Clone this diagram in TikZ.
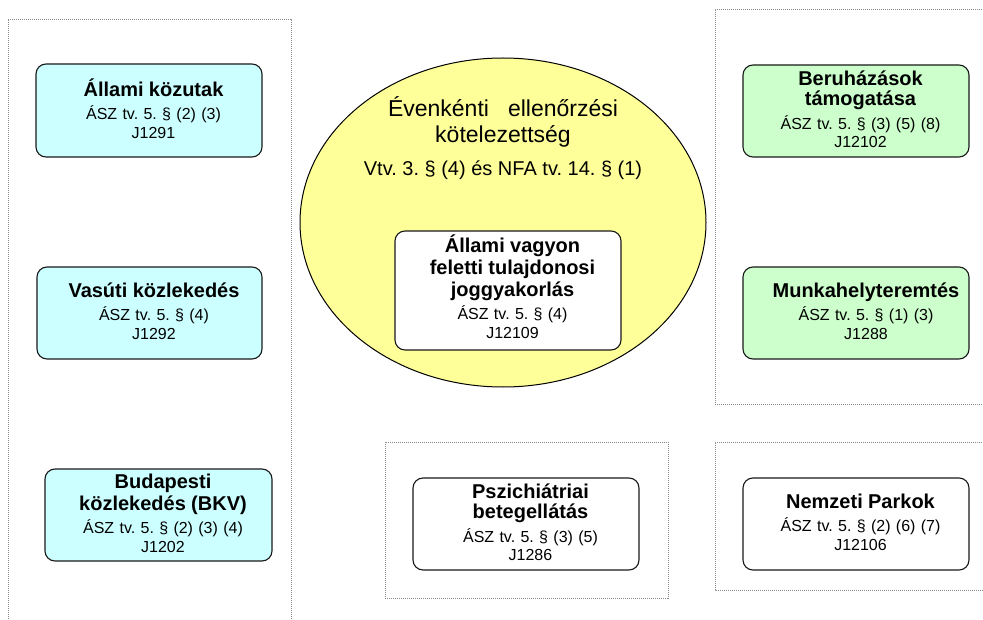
\documentclass[tikz,border=0pt]{standalone}
\usepackage{fontspec}
\setmainfont{Liberation Sans}
\usetikzlibrary{shapes.geometric}
\lineskiplimit=-100pt
\frenchspacing
\definecolor{boxcyan}{HTML}{CCFFFF}
\definecolor{boxgreen}{HTML}{CCFFCC}
\definecolor{ellyellow}{HTML}{FFFF99}
\definecolor{framegray}{HTML}{8A8A8A}
\newcommand{\cardtitle}[1]{{\fontsize{20}{18.5}\selectfont\bfseries #1}}
\tikzset{
  card/.style={draw=black!90, line width=1.1pt, rounded corners=10pt,
    minimum width=226pt, minimum height=92pt, inner sep=0pt},
  cardtext/.style={align=center, text width=215pt, inner sep=0pt,
    font=\fontsize{16}{18.5}\selectfont\frenchspacing, xshift=4.5pt, yshift=2pt},
  groupframe/.style={draw=framegray, line width=0.9pt, dash pattern=on 1pt off 1pt},
}
\begin{document}
\begin{tikzpicture}[x=1pt, y=-1pt]
\useasboundingbox (0,0) rectangle (983,620);

% group frames
\draw[groupframe] (8,625) -- (8,19) -- (291,19) -- (291,625);
\draw[groupframe] (990,9) -- (715,9) -- (715,404) -- (990,404);
\draw[groupframe] (385,442) rectangle (668,598);
\draw[groupframe] (990,442) -- (715,442) -- (715,590) -- (990,590);

% left column
\node[card, fill=boxcyan, minimum height=93pt,
  label={[cardtext]center:{\cardtitle{Állami közutak}\\[5pt]ÁSZ tv. 5. § (2) (3)\\J1291}}]
  (kozutak) at (149,110.5) {};
\node[card, fill=boxcyan, minimum width=225pt,
  label={[cardtext]center:{\cardtitle{Vasúti közlekedés}\\[5pt]ÁSZ tv. 5. § (4)\\J1292}}]
  (vasuti) at (149.5,313) {};
\node[card, fill=boxcyan, minimum width=227pt,
  label={[cardtext]center:{\cardtitle{Budapesti\\[2pt]közlekedés (BKV)}\\[5pt]ÁSZ tv. 5. § (2) (3) (4)\\J1202}}]
  (bkv) at (158.5,515) {};

% central ellipse
\node[ellipse, draw=black, line width=1pt, fill=ellyellow,
  minimum width=406pt, minimum height=329pt, inner sep=0pt] (ell) at (503,222.5) {};
\node[align=center, inner sep=0pt, font=\fontsize{23}{26.5}\selectfont]
  (elltitle) at (503,122) {Évenkénti\hspace*{19pt}ellenőrzési\\kötelezettség};
\node[anchor=base, inner sep=0pt, font=\fontsize{20}{24}\selectfont\frenchspacing]
  (elllaw) at (503,176) {Vtv. 3. § (4) és NFA tv. 14. § (1)};
\node[card, fill=white, minimum height=119pt,
  label={[cardtext, yshift=2pt]center:{\cardtitle{Állami vagyon\\[2pt]feletti tulajdonosi\\[2pt]joggyakorlás}\\[5pt]ÁSZ tv. 5. § (4)\\J12109}}]
  (vagyon) at (508,290.5) {};

% right column
\node[card, fill=boxgreen,
  label={[cardtext]center:{\cardtitle{Beruházások\\[2pt]támogatása}\\[5pt]ÁSZ tv. 5. § (3) (5) (8)\\J12102}}]
  (beruh) at (856,111) {};
\node[card, fill=boxgreen,
  label={[cardtext, xshift=5.5pt]center:{\cardtitle{Munkahelyteremtés}\\[5pt]ÁSZ tv. 5. § (1) (3)\\J1288}}]
  (munka) at (856,313) {};

% bottom row
\node[card, fill=white,
  label={[cardtext]center:{\cardtitle{Pszichiátriai\\[2pt]betegellátás}\\[5pt]ÁSZ tv. 5. § (3) (5)\\J1286}}]
  (pszich) at (526,524) {};
\node[card, fill=white,
  label={[cardtext]center:{\cardtitle{Nemzeti Parkok}\\[5pt]ÁSZ tv. 5. § (2) (6) (7)\\J12106}}]
  (nemzeti) at (856,524) {};
\end{tikzpicture}
\end{document}
